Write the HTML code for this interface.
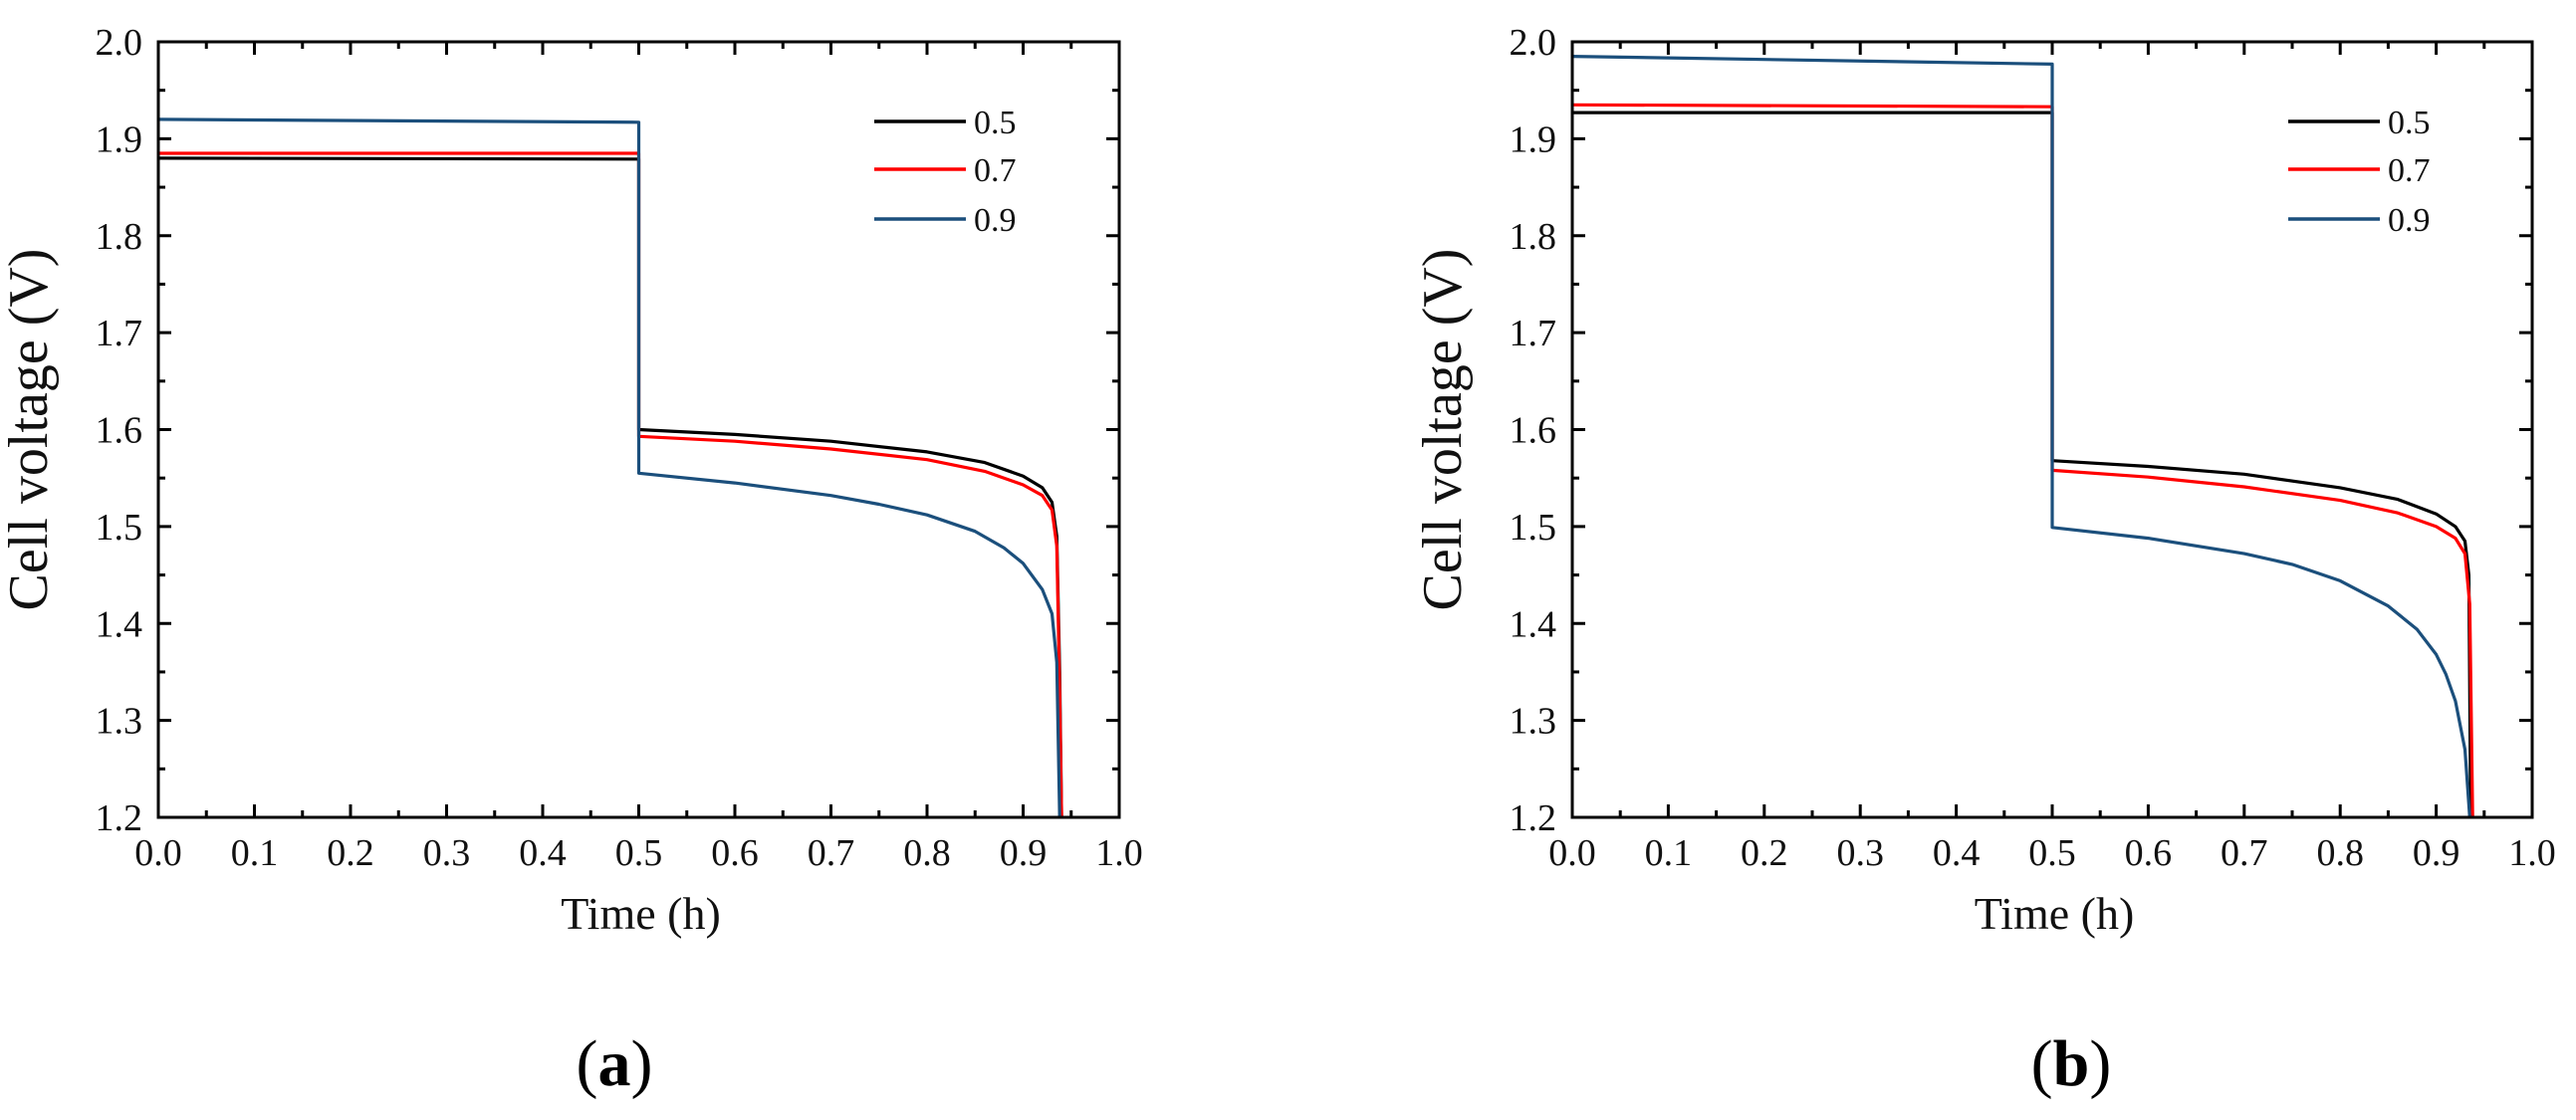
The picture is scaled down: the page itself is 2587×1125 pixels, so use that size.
<!DOCTYPE html>
<html><head><meta charset="utf-8"><style>
html,body{margin:0;padding:0;background:#fff;}
svg{display:block;font-family:"Liberation Serif","DejaVu Serif",serif;}
</style></head><body>
<svg id="fig" width="2587" height="1125" viewBox="0 0 2587 1125" xmlns="http://www.w3.org/2000/svg"></svg>
<script>
const xTicks = [0.0,0.1,0.2,0.3,0.4,0.5,0.6,0.7,0.8,0.9,1.0];
const yTicks = [1.2,1.3,1.4,1.5,1.6,1.7,1.8,1.9,2.0];
const seriesNames = ["0.5","0.7","0.9"];
const seriesColors = ["#000000","#ff0000","#1b4f7c"];
// panel (a)
const aX05 = [0,0.5,0.5,0.6,0.7,0.8,0.86,0.9,0.92,0.93,0.935,0.938,0.94];
const aY05 = [1.880,1.879,1.600,1.595,1.588,1.577,1.566,1.552,1.54,1.525,1.49,1.35,1.2];
const aX07 = [0,0.5,0.5,0.6,0.7,0.8,0.86,0.9,0.92,0.93,0.935,0.938,0.94];
const aY07 = [1.885,1.885,1.593,1.588,1.580,1.569,1.557,1.543,1.532,1.517,1.48,1.33,1.2];
const aX09 = [0,0.5,0.5,0.6,0.7,0.75,0.8,0.85,0.88,0.9,0.92,0.93,0.935,0.938];
const aY09 = [1.920,1.917,1.555,1.545,1.532,1.523,1.512,1.495,1.478,1.462,1.435,1.41,1.36,1.2];
// panel (b)
const bX05 = [0,0.5,0.5,0.6,0.7,0.8,0.86,0.9,0.92,0.93,0.934,0.936];
const bY05 = [1.927,1.927,1.568,1.562,1.554,1.540,1.528,1.513,1.50,1.485,1.45,1.2];
const bX07 = [0,0.5,0.5,0.6,0.7,0.8,0.86,0.9,0.92,0.93,0.935,0.938];
const bY07 = [1.935,1.933,1.558,1.551,1.541,1.527,1.514,1.500,1.488,1.472,1.42,1.2];
const bX09 = [0,0.5,0.5,0.6,0.7,0.75,0.8,0.85,0.88,0.9,0.91,0.92,0.93,0.935];
const bY09 = [1.985,1.977,1.499,1.488,1.472,1.461,1.444,1.418,1.394,1.368,1.348,1.32,1.27,1.2];

const NS="http://www.w3.org/2000/svg";
const svg=document.getElementById('fig');
function mk(tag,attrs,parent){const e=document.createElementNS(NS,tag);for(const k in attrs)e.setAttribute(k,attrs[k]);(parent||svg).appendChild(e);return e;}

function panel(id,L,R,T,B,xs,ys,label,labelX){
  const g=mk('g',{});
  
  
  const sx=v=>L+(v-0)/(1-0)*(R-L);
  const sy=v=>B-(v-1.2)/(2.0-1.2)*(B-T);
  // series
  for(let i=0;i<3;i++){
    let d='';
    for(let j=0;j<xs[i].length;j++){d+=(j?'L':'M')+sx(xs[i][j]).toFixed(1)+','+sy(ys[i][j]).toFixed(1);}
    const p=mk('path',{d:d,fill:'none',stroke:seriesColors[i],'stroke-width':3.2,'stroke-linejoin':'round'},g);
    
    
  }
  // frame
  const fr=mk('rect',{x:L,y:T,width:R-L,height:B-T,fill:'none',stroke:'#000','stroke-width':3},g);
  
  
  // x ticks
  for(let i=0;i<xTicks.length;i++){
    const x=sx(xTicks[i]);
    mk('line',{x1:x,y1:B,x2:x,y2:B-13,stroke:'#000','stroke-width':3},g);
    mk('line',{x1:x,y1:T,x2:x,y2:T+13,stroke:'#000','stroke-width':3},g);
    if(i<xTicks.length-1){const xm=sx(xTicks[i]+0.05);
      mk('line',{x1:xm,y1:B,x2:xm,y2:B-7,stroke:'#000','stroke-width':3},g);
      mk('line',{x1:xm,y1:T,x2:xm,y2:T+7,stroke:'#000','stroke-width':3},g);}
    const t=mk('text',{x:x,y:B+48,'font-size':38,'text-anchor':'middle',fill:'#111'},g);
    t.textContent=xTicks[i].toFixed(1);
    
    
  }
  for(let i=0;i<yTicks.length;i++){
    const y=sy(yTicks[i]);
    mk('line',{x1:L,y1:y,x2:L+13,y2:y,stroke:'#000','stroke-width':3},g);
    mk('line',{x1:R,y1:y,x2:R-13,y2:y,stroke:'#000','stroke-width':3},g);
    if(i<yTicks.length-1){const ym=sy(yTicks[i]+0.05);
      mk('line',{x1:L,y1:ym,x2:L+7,y2:ym,stroke:'#000','stroke-width':3},g);
      mk('line',{x1:R,y1:ym,x2:R-7,y2:ym,stroke:'#000','stroke-width':3},g);}
    const t=mk('text',{x:L-16,y:y+13,'font-size':38,'text-anchor':'end',fill:'#111'},g);
    t.textContent=yTicks[i].toFixed(1);
    
    
  }
  const xt=mk('text',{x:(L+R)/2+2,y:B+112,'font-size':46,'text-anchor':'middle',fill:'#111'},g);
  xt.textContent='Time (h)';
  
  
  const yx=L-112,yy=(T+B)/2;
  const yt=mk('text',{x:yx,y:yy,'font-size':56,'text-anchor':'middle',fill:'#111',transform:'rotate(-90 '+yx+' '+yy+')'},g);
  yt.textContent='Cell voltage (V)';
  
  
  // legend
  const ly=[122,170,220];
  for(let i=0;i<3;i++){
    const lg=mk('g',{},g);
    
    
    mk('line',{x1:L+719,y1:ly[i],x2:L+811,y2:ly[i],stroke:seriesColors[i],'stroke-width':3.5},lg);
    const t=mk('text',{x:L+819,y:ly[i]+12,'font-size':34,fill:'#111'},lg);
    t.textContent=seriesNames[i];
  }
  const cap=mk('text',{x:labelX,y:1090,'font-size':66,'text-anchor':'middle',fill:'#000'},g);
  
  
  cap.innerHTML='(<tspan font-weight="bold">'+label+'</tspan>)';
}
panel('a',159,1124,42,821,[aX05,aX07,aX09],[aY05,aY07,aY09],'a',617);
panel('b',1579,2543,42,821,[bX05,bX07,bX09],[bY05,bY07,bY09],'b',2080);
</script>
</body></html>
